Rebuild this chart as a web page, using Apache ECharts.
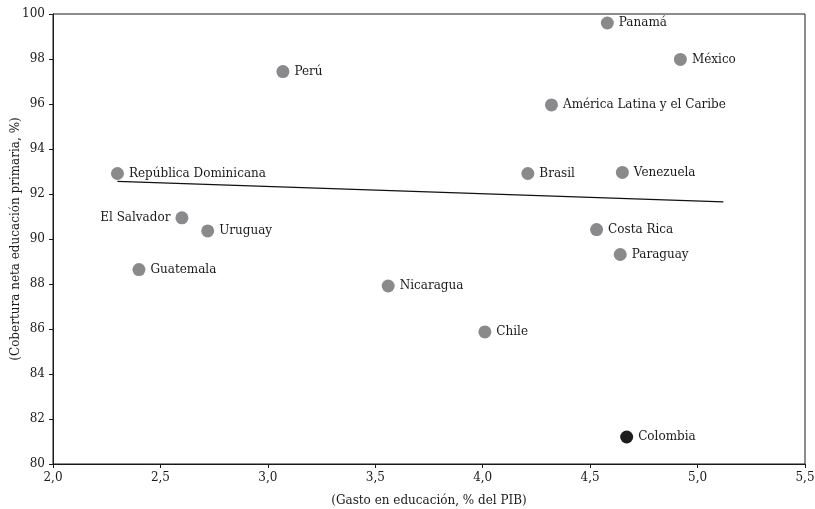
<!DOCTYPE html>
<html>
<head>
<meta charset="utf-8">
<script src="https://cdn.jsdelivr.net/npm/echarts@6/dist/echarts.min.js"></script>
<style>
  html, body { margin: 0; padding: 0; background: #fff; }
  #chart { width: 815px; height: 509px; }
</style>
</head>
<body>
<div id="chart"></div>
<script>
// países y valores
const paises = ["Panamá", "México", "Perú", "América Latina y el Caribe", "República Dominicana",
    "Brasil", "Venezuela", "El Salvador", "Uruguay", "Costa Rica", "Paraguay", "Guatemala",
    "Nicaragua", "Chile"]
const gasto = [4.58, 4.92, 3.07, 4.32, 2.30, 4.21, 4.65, 2.60, 2.72, 4.53, 4.64, 2.40, 3.56, 4.01]
const cobertura = [99.6, 97.98, 97.44, 95.96, 92.91, 92.91, 92.96, 90.94, 90.36, 90.42, 89.31, 88.64, 87.91, 85.87]

const colombia = [4.67, 81.2]
const tendencia = [[2.30, 92.56], [5.12, 91.65]]

const fuente = "'DejaVu Serif', 'Liberation Serif', serif"

let myChart = echarts.init(document.getElementById("chart"))

let puntos = paises.map((p, i) => ({
    name: p,
    value: [gasto[i], cobertura[i]],
    label: p === "El Salvador" ? { position: "left" } : {}
}))

let etiqueta = {
    show: true,
    position: "right",
    distance: 5,
    formatter: "{b}",
    fontFamily: fuente,
    fontSize: 12,
    color: "#1a1a1a"
}

let option = {
    animation: false,
    grid: {
        left: 53,
        right: 10,
        top: 14,
        bottom: 45,
        outerBoundsMode: "none",
        containLabel: false,
        show: true,
        borderColor: "#1a1a1a",
        borderWidth: 1
    },
    xAxis: {
        type: "value",
        min: 2,
        max: 5.5,
        interval: 0.5,
        name: "(Gasto en educación, % del PIB)",
        nameLocation: "middle",
        nameGap: 31,
        nameTextStyle: { fontFamily: fuente, fontSize: 12, color: "#1a1a1a" },
        splitLine: { show: false },
        axisLine: { lineStyle: { color: "#1a1a1a" } },
        axisTick: { lineStyle: { color: "#1a1a1a" }, length: 4 },
        axisLabel: {
            fontFamily: fuente, fontSize: 12, color: "#1a1a1a", margin: 8,
            formatter: v => v.toFixed(1).replace(".", ",")
        }
    },
    yAxis: {
        type: "value",
        min: 80,
        max: 100,
        interval: 2,
        name: "(Cobertura neta educación primaria, %)",
        nameLocation: "middle",
        nameGap: 31,
        nameMoveOverlap: false,
        nameTextStyle: { fontFamily: fuente, fontSize: 12, color: "#1a1a1a" },
        splitLine: { show: false },
        axisLine: { lineStyle: { color: "#1a1a1a" } },
        axisTick: { lineStyle: { color: "#1a1a1a" }, length: 4 },
        axisLabel: { fontFamily: fuente, fontSize: 12, color: "#1a1a1a", margin: 8 }
    },
    series: [
        {
            type: "line",
            data: tendencia,
            symbol: "none",
            lineStyle: { color: "#111", width: 1.2 },
            z: 1
        },
        {
            type: "scatter",
            data: puntos,
            symbolSize: 13,
            itemStyle: { color: "#8a8a8c", opacity: 1 },
            label: etiqueta,
            z: 3
        },
        {
            type: "scatter",
            data: [{ name: "Colombia", value: colombia }],
            symbolSize: 13,
            itemStyle: { color: "#1e1c1c", opacity: 1 },
            label: etiqueta,
            z: 3
        }
    ]
}
myChart.setOption(option)
</script>
</body>
</html>
